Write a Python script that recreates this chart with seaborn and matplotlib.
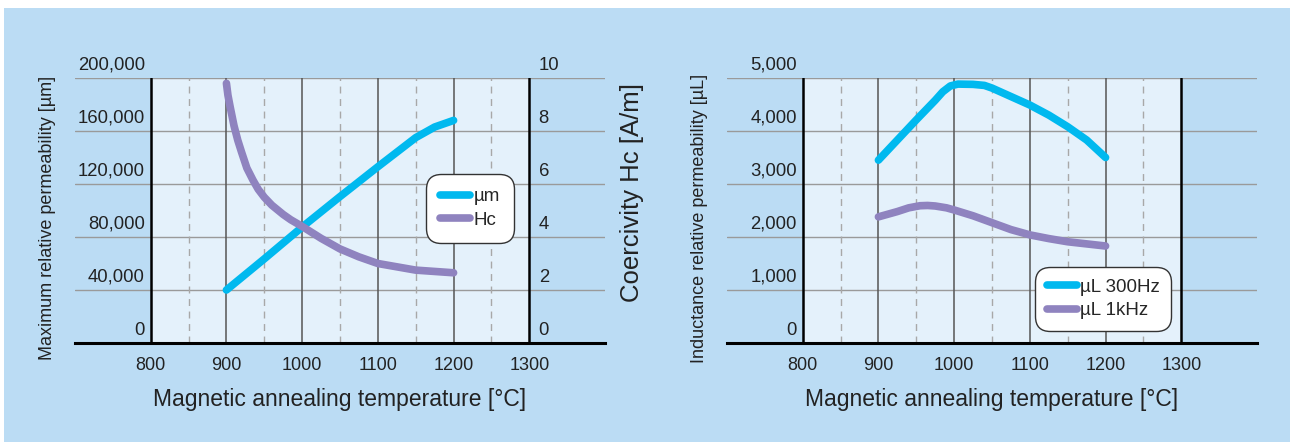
import numpy as np
import pandas as pd
import seaborn as sns
import matplotlib.pyplot as plt
from matplotlib.patches import Rectangle
from matplotlib.transforms import offset_copy

# Dados
temp_mu = [900, 950, 1000, 1050, 1100, 1150, 1175, 1200]
mu_max = [40000, 63500, 87500, 110500, 133000, 155000, 163000, 168000]

temp_hc = [900, 902, 905, 910, 915, 920, 927, 935, 942, 950, 960, 975, 985, 1000, 1025, 1050, 1075, 1100, 1150, 1200]
hc = [9.8, 9.35, 8.9, 8.2, 7.65, 7.2, 6.6, 6.15, 5.8, 5.5, 5.2, 4.85, 4.65, 4.4, 3.95, 3.55, 3.25, 3.0, 2.75, 2.65]

temp_300 = [900, 925, 950, 975, 985, 995, 1005, 1025, 1040, 1050, 1075, 1100, 1125, 1150, 1175, 1200]
mul_300 = [3450, 3830, 4210, 4580, 4740, 4850, 4885, 4880, 4860, 4810, 4650, 4490, 4300, 4080, 3830, 3500]

temp_1k = [900, 925, 940, 955, 965, 975, 990, 1000, 1025, 1050, 1075, 1100, 1125, 1150, 1175, 1200]
mul_1k = [2380, 2480, 2550, 2590, 2595, 2585, 2550, 2510, 2400, 2270, 2140, 2040, 1970, 1910, 1870, 1830]

x_ticks = [800, 900, 1000, 1100, 1200, 1300]
left_yticks = [0, 40000, 80000, 120000, 160000, 200000]
hc_ticks = [0, 2, 4, 6, 8, 10]
right_yticks = [0, 1000, 2000, 3000, 4000, 5000]

cyan = '#00b9ef'
purple = '#8f83bf'
bg = '#bbdcf4'
inner = '#e4f1fb'
txt = '#222222'

sns.set_style('white')
plt.rcParams['font.family'] = ['Liberation Sans', 'DejaVu Sans']

fig = plt.figure(figsize=(12.9, 4.42), dpi=100)
fig.patch.set_facecolor('white')
fig.patches.append(Rectangle((4 / 1290, 0), 1, 1 - 8 / 442, transform=fig.transFigure,
                             facecolor=bg, edgecolor='none', zorder=-10))


def grid_base(ax, yticks):
    ax.set_facecolor('none')
    ax.set_xlim(700, 1400)
    ax.set_ylim(0, yticks[-1])
    ax.axvspan(800, 1300, color=inner, zorder=0, lw=0)
    for v in yticks[1:]:
        ax.axhline(v, color='#9a9a9a', lw=1, zorder=1)
    for v in [850, 950, 1050, 1150, 1250]:
        ax.axvline(v, color='#a8a8a8', lw=1, ls=(0, (5, 4)), zorder=1)
    for v in [900, 1000, 1100, 1200]:
        ax.axvline(v, color='#555555', lw=1.1, zorder=1)
    for v in [800, 1300]:
        ax.axvline(v, color='black', lw=1.8, zorder=1)
    for s in ['top', 'left', 'right']:
        ax.spines[s].set_visible(False)
    ax.spines['bottom'].set_color('black')
    ax.spines['bottom'].set_linewidth(2.2)
    ax.spines['bottom'].set_zorder(5)
    ax.set_yticks([])
    ax.set_xticks(x_ticks)
    ax.tick_params(axis='x', length=0, pad=10, labelsize=13, labelcolor=txt)
    tr = offset_copy(ax.transData, fig=fig, x=-2, y=3, units='points')
    for v in yticks:
        ax.text(796, v, f'{v:,}', transform=tr, ha='right', va='bottom', fontsize=13.3, color=txt)


def style_legend(leg):
    frame = leg.get_frame()
    frame.set_edgecolor('#333333')
    frame.set_linewidth(1)
    frame.set_facecolor('white')
    frame.set_alpha(1)
    frame.set_boxstyle('round', pad=0, rounding_size=0.8)
    for line in leg.get_lines():
        line.set_linewidth(5.5)
        line.set_solid_capstyle('round')


xlabel = 'Magnetic annealing temperature [°C]'

# Gráfico da esquerda
ax1 = fig.add_axes([75 / 1290, 99 / 442, 530 / 1290, 265 / 442])
grid_base(ax1, left_yticks)
df_mu = pd.DataFrame({'temp': temp_mu, 'val': mu_max})
sns.lineplot(data=df_mu, x='temp', y='val', ax=ax1, color=cyan, lw=5.5,
             solid_capstyle='round', label='µm', zorder=4)
ax1.set_xlabel(xlabel, fontsize=16.5, color=txt, labelpad=10)
ax1.set_ylabel('')
ax1.legend().remove()
fig.text(48 / 1290, (442 - 218) / 442, 'Maximum relative permeability [µm]', rotation=90,
         ha='center', va='center', fontsize=13, color=txt)

ax1b = ax1.twinx()
ax1b.set_ylim(0, 10)
ax1b.set_yticks([])
for s in ax1b.spines.values():
    s.set_visible(False)
df_hc = pd.DataFrame({'temp': temp_hc, 'val': hc})
sns.lineplot(data=df_hc, x='temp', y='val', ax=ax1b, color=purple, lw=5.5,
             solid_capstyle='round', label='Hc', zorder=4)
ax1b.set_ylabel('')
tr_r = offset_copy(ax1b.transData, fig=fig, x=4, y=3, units='points')
for v in hc_ticks:
    ax1b.text(1305, v, str(v), transform=tr_r, ha='left', va='bottom', fontsize=13.3, color=txt)
fig.text(632 / 1290, (442 - 193) / 442, 'Coercivity Hc [A/m]', rotation=90,
         ha='center', va='center', fontsize=18.5, color=txt)

h1, l1 = ax1.get_legend_handles_labels()
h2, l2 = ax1b.get_legend_handles_labels()
leg = ax1b.legend(h1 + h2, l1 + l2, loc='center', bbox_to_anchor=(0.745, 0.507),
                  fontsize=13.5, handlelength=1.6, handletextpad=0.2, labelspacing=0.35,
                  borderpad=0.75, borderaxespad=0, frameon=True)
style_legend(leg)
leg.set_zorder(10)

# Gráfico da direita
ax2 = fig.add_axes([727 / 1290, 99 / 442, 530 / 1290, 265 / 442])
grid_base(ax2, right_yticks)
df_l = pd.DataFrame({
    'temp': temp_300 + temp_1k,
    'val': mul_300 + mul_1k,
    'serie': ['µL 300Hz'] * len(temp_300) + ['µL 1kHz'] * len(temp_1k),
})
sns.lineplot(data=df_l, x='temp', y='val', hue='serie', palette=[cyan, purple], ax=ax2,
             lw=5.5, solid_capstyle='round', zorder=4)
ax2.set_xlabel(xlabel, fontsize=16.5, color=txt, labelpad=10)
ax2.set_ylabel('')
leg2 = ax2.legend(title=None, loc='center', bbox_to_anchor=(0.71, 0.166),
                  fontsize=13.5, handlelength=1.6, handletextpad=0.2, labelspacing=0.35,
                  borderpad=0.6, borderaxespad=0, frameon=True)
style_legend(leg2)
fig.text(700 / 1290, (442 - 218) / 442, 'Inductance relative permeability [µL]', rotation=90,
         ha='center', va='center', fontsize=13, color=txt)

fig.savefig('out.png', dpi=100, facecolor=fig.get_facecolor())
